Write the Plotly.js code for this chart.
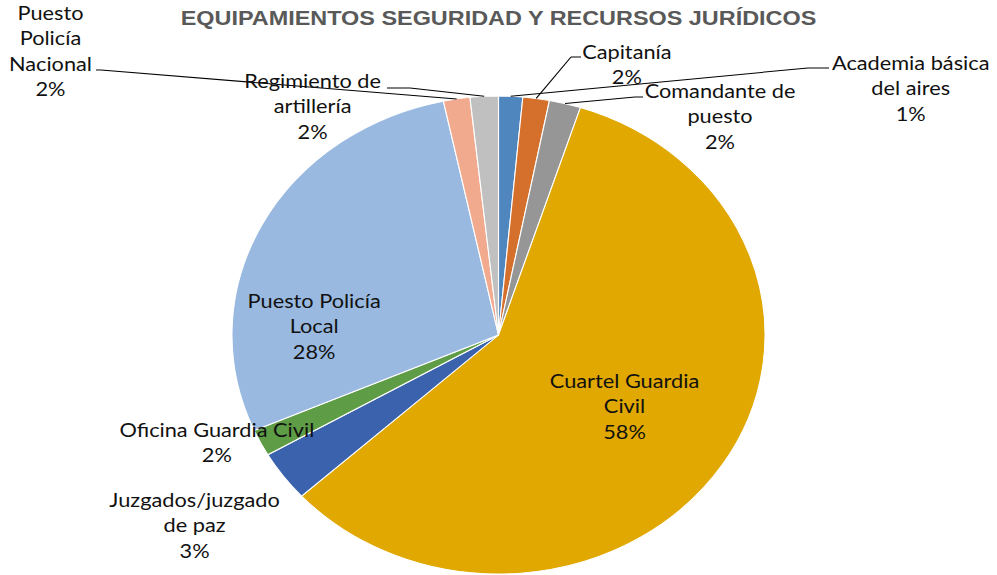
<!DOCTYPE html>
<html>
<head>
<meta charset="utf-8">
<script src="https://cdn.plot.ly/plotly-3.0.1.min.js"></script>
<style>
  html, body { margin: 0; padding: 0; overflow: hidden; background: #fff; }
  #chart { width: 894px; height: 575px; transform: scaleX(1.1152); transform-origin: 0 0; }
</style>
</head>
<body>
<div id="chart"></div>
<script>
// ---- data ----
const categories = [
  "Academia básica del aires",
  "Capitanía",
  "Comandante de puesto",
  "Cuartel Guardia Civil",
  "Juzgados/juzgado de paz",
  "Oficina Guardia Civil",
  "Puesto Policía Local",
  "Puesto Policía Nacional",
  "Regimiento de artillería"
];
const values = [1.45, 1.6, 1.9, 58.0, 3.4, 1.8, 28.1, 1.6, 1.7];
const displayLabels = [
  "Academia básica<br>del aires",
  "Capitanía",
  "Comandante de<br>puesto",
  "Cuartel Guardia<br>Civil",
  "Juzgados/juzgado<br>de paz",
  "Oficina Guardia Civil",
  "Puesto Policía<br>Local",
  "Puesto<br>Policía<br>Nacional",
  "Regimiento de<br>artillería"
];
const colors = ["#4E86BD", "#D5702C", "#969696", "#E0A800", "#3B62AD",
                "#5E9C45", "#99B9E0", "#F1AA8E", "#C0C0C0"];

// ---- layout helpers (reference pixel space -> paper) ----
const REF_W = 997, REF_H = 575;
const px = x => x / REF_W;
const py = y => 1 - y / REF_H;
const CX = 498.5, CY = 335, RY = 239, RX = 239 * 1.1152;

// label centre positions (reference pixels)
const labelPos = [
  [911, 88], [627, 64.5], [720, 116], [624, 406], [195, 525],
  [217, 442], [314, 326], [51, 50.5], [313, 106]
];
// leader line horizontal segment [xStart, xEnd, y] (null = no leader)
const leaders = [
  [829, 808, 68], [581, 571, 57], [643, 635, 97], null, null,
  null, null, [96, 101, 70], [387, 410, 88]
];

const total = values.reduce((a, b) => a + b, 0);
const annotations = [];
const shapes = [];
let cum = 0;
values.forEach((v, i) => {
  const mid = (cum + v / 2) / total * 2 * Math.PI;
  cum += v;
  const pct = Math.round(v / total * 100) + "%";
  annotations.push({
    xref: "paper", yref: "paper",
    x: px(labelPos[i][0]), y: py(labelPos[i][1]),
    xanchor: "center", yanchor: "middle", align: "center",
    showarrow: false,
    text: displayLabels[i] + "<br>" + pct,
    font: { family: "Lato, 'Open Sans', sans-serif", size: 19.5, color: "#111111" }
  });
  const L = leaders[i];
  if (L) {
    const ex = CX + RX * Math.sin(mid);
    const ey = CY - RY * Math.cos(mid);
    const lineStyle = { color: "#000", width: 1 };
    shapes.push({ type: "line", xref: "paper", yref: "paper",
      x0: px(L[0]), y0: py(L[2]), x1: px(L[1]), y1: py(L[2]), line: lineStyle });
    shapes.push({ type: "line", xref: "paper", yref: "paper",
      x0: px(L[1]), y0: py(L[2]), x1: px(ex), y1: py(ey), line: lineStyle });
  }
});

const trace = {
  type: "pie",
  labels: categories,
  values: values,
  sort: false,
  direction: "clockwise",
  rotation: 0,
  textinfo: "none",
  hoverinfo: "label+percent",
  marker: { colors: colors, line: { color: "#ffffff", width: 1 } },
  domain: { x: [0, 1], y: [py(574), py(96)] },
  showlegend: false
};

const layout = {
  width: 894, height: 575,
  margin: { l: 0, r: 0, t: 0, b: 0 },
  paper_bgcolor: "#ffffff",
  title: {
    text: "<b>EQUIPAMIENTOS SEGURIDAD Y RECURSOS JURÍDICOS</b>",
    x: 0.5, xanchor: "center", xref: "paper",
    y: py(18), yanchor: "middle", yref: "paper",
    font: { family: "'Liberation Sans', Arial, sans-serif", size: 21, color: "#595959" }
  },
  annotations: annotations,
  shapes: shapes
};

Plotly.newPlot("chart", [trace], layout, { displayModeBar: false, staticPlot: true });
</script>
</body>
</html>
